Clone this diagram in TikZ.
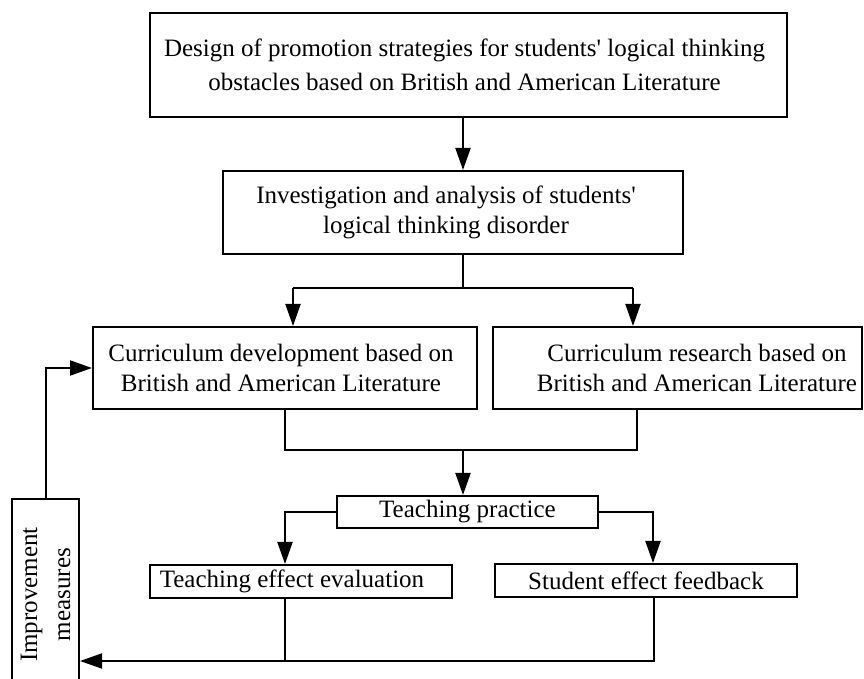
\documentclass[tikz,border=0pt]{standalone}
\usepackage{fontspec}
\setmainfont{Liberation Serif}
\usetikzlibrary{arrows.meta}

\begin{document}
\begin{tikzpicture}[x=0.5pt,y=-0.5pt,
  box/.style={draw,line width=1pt,inner sep=1pt,align=center,font=\fontsize{12.5pt}{15pt}\selectfont},
  arr/.style={line width=1pt,-{Triangle[length=11pt,width=7.5pt]}},
  ln/.style={line width=1pt}]
\useasboundingbox (0,0) rectangle (864,679);
%%
\node[box,minimum width=318.5pt,minimum height=52pt,font=\fontsize{12.5pt}{17pt}\selectfont] (design) at (468.5,65)
  {Design of promotion strategies for students\textquotesingle{} logical thinking\kern4pt\\obstacles based on British and American Literature\kern4pt};
\node[box,minimum width=230pt,minimum height=41.5pt] (inv) at (453,212.5)
  {Investigation and analysis of students\textquotesingle\kern7pt\\logical thinking disorder\kern7pt};
\node[box,minimum width=192pt,minimum height=41pt] (dev) at (285,368)
  {Curriculum development based on\kern4pt\\British and American Literature\kern4pt};
\node[box,minimum width=184.5pt,minimum height=41pt] (res) at (677.5,368)
  {\hspace*{19.5pt}Curriculum research based on\\\hspace*{19.5pt}British and American Literature};
\node[box,minimum width=130.5pt,minimum height=16pt] (prac) at (467.5,512) {Teaching practice};
\node[box,minimum width=151pt,minimum height=16.5pt] (eval) at (301,581.5) {Teaching effect evaluation\kern9pt};
\node[box,minimum width=151pt,minimum height=16.5pt] (fb) at (646,580.5) {Student effect feedback};
%\node at (45,588) {Improvement measures};
\node[box,rotate=90,minimum width=95.5pt,minimum height=33.5pt,font=\fontsize{12.5pt}{16.5pt}\selectfont] (imp) at (45.5,594.5)
  {Improvement\\measures};
%% junctions
\coordinate (split) at (463,288);
\coordinate (L) at (293,288);
\coordinate (R) at (633,288);
\coordinate (JL) at (285,450);
\coordinate (JR) at (637,450);
\coordinate (join) at (463,450);
\coordinate (B) at (285,661);
%% connectors
\draw[arr] (design.south -| split) -- (inv.north -| split);
\draw[ln] (inv.south -| split) -- (split);
\draw[ln] (L) -- (R);
\draw[arr] (L) -- (L |- dev.north);
\draw[arr] (R) -- (R |- res.north);
\draw[ln] (dev.south) -- (JL) -- (JR) -- (JR |- res.south);
\draw[arr] (join) -- (join |- prac.north);
\draw[arr] (prac.west) -| (JL |- eval.north);
\draw[arr] (prac.east) -| ([xshift=3.5pt]fb.north);
\draw[ln] (B |- eval.south) -- (B);
\draw[ln] ([xshift=4pt]fb.south) |- (B);
\draw[arr] (B) -- (B -| imp.south);
\draw[arr] (imp.east) |- (dev.west);
\end{tikzpicture}
\end{document}
